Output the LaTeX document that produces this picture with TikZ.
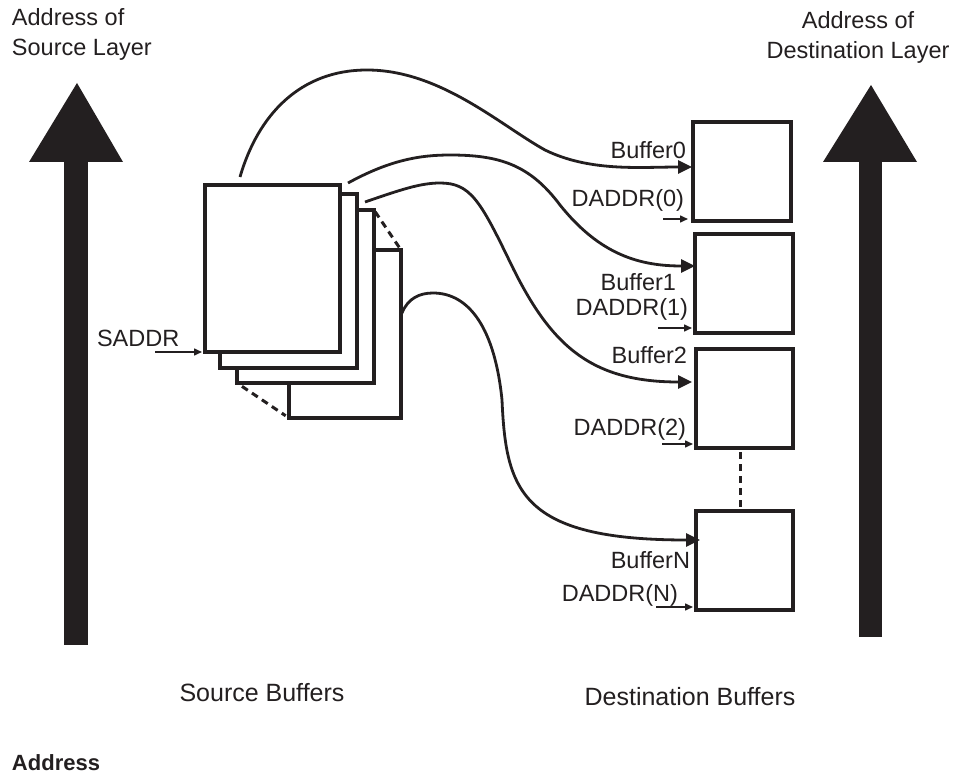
\documentclass[tikz,border=0pt]{standalone}
\usepackage{fontspec}
\setmainfont{Liberation Sans}
\usetikzlibrary{arrows.meta,calc}
\definecolor{ink}{HTML}{231F20}
\tikzset{
  lbl/.style={inner sep=0pt,outer sep=0pt,text=ink,font=\fontsize{23.5}{27}\selectfont},
  biglbl/.style={inner sep=0pt,outer sep=0pt,text=ink,font=\fontsize{25}{29}\selectfont},
  sbuf/.style={draw=ink,line width=3.2pt,fill=white,anchor=north west,inner sep=0pt,outer sep=0pt},
  dbuf/.style={draw=ink,line width=3.2pt,fill=white,anchor=north west,inner sep=0pt,outer sep=0pt},
  curve/.style={draw=ink,line width=2.8pt,-{Triangle[length=14pt,width=13pt]}},
  smallarr/.style={draw=ink,line width=1.5pt,-{Triangle[length=8pt,width=7pt]}},
  dashline/.style={draw=ink,line width=3pt,dash pattern=on 7pt off 5pt},
  bigarrow/.style={fill=ink,draw=none}
}
\begin{document}
\begin{tikzpicture}[x=1pt,y=-1pt]
\useasboundingbox (0,0) rectangle (956,778);

% big arrows
\fill[bigarrow] (64,160) rectangle (88,645);
\fill[bigarrow] (29,162) -- (123,162) -- (77,83) -- cycle;
\fill[bigarrow] (859,160) rectangle (882,637);
\fill[bigarrow] (823,162) -- (917,162) -- (871,85) -- cycle;

% top labels
\node[lbl,anchor=west,align=left] (srclayer) at (12,34) {Address of\\[3pt]Source Layer};
\node[lbl,align=center] (dstlayer) at (858,37) {Address of\\[3pt]Destination Layer};

% source buffers
\node[sbuf,minimum width=112pt,minimum height=168pt] (s4) at (289,250) {};
\node[sbuf,minimum width=137pt,minimum height=173pt] (s3) at (237,210) {};
\node[sbuf,minimum width=137pt,minimum height=174pt] (s2) at (220,194) {};
\node[sbuf,minimum width=135pt,minimum height=167pt] (s1) at (205,185) {};
\draw[dashline,shorten <=6pt,shorten >=4pt] (s3.south west) -- (s4.south west);
\draw[dashline,shorten <=2pt,shorten >=2pt] (s3.north east) -- (s4.north east);

% destination buffers
\node[dbuf,minimum width=98pt,minimum height=99pt] (d0) at (693,122) {};
\node[dbuf,minimum width=98pt,minimum height=99pt] (d1) at (695,234) {};
\node[dbuf,minimum width=97pt,minimum height=99pt] (d2) at (696,349) {};
\node[dbuf,minimum width=97pt,minimum height=99pt] (dN) at (696,511) {};
\draw[dashline,shorten <=4pt,shorten >=4pt] ($(d2.south)+(-4,0)$) -- ($(dN.north)+(-4,0)$);

% labels at destination buffers
\node[lbl,anchor=east] (b0) at (686,150) {Buffer0};
\node[lbl,anchor=east] (a0) at (684,200) {DADDR(0)};
\node[lbl,anchor=east] (b1) at (676,282) {Buffer1};
\node[lbl,anchor=east] (a1) at (688,309) {DADDR(1)};
\node[lbl,anchor=east] (b2) at (687,355) {Buffer2};
\node[lbl,anchor=east] (a2) at (686,429) {DADDR(2)};
\node[lbl,anchor=east] (bN) at (690,560) {BufferN};
\node[lbl,anchor=east] (aN) at (678,595) {DADDR(N)};

\draw[smallarr] ($(d0.south west)+(-30,-2)$) -- ($(d0.south west)+(-5,-2)$);
\draw[smallarr] ($(d1.south west)+(-37,-5)$) -- ($(d1.south west)+(-3,-5)$);
\draw[smallarr] ($(d2.south west)+(-34,-4)$) -- ($(d2.south west)+(-3,-4)$);
\draw[smallarr] ($(dN.south west)+(-40,-3)$) -- ($(dN.south west)+(-3,-3)$);

% SADDR
\node[lbl,anchor=west] (saddr) at (97,338) {SADDR};
\draw[smallarr] ($(s1.south west)+(-50,0)$) -- ($(s1.south west)+(-3,0)$);

% source-side start points of the curves
\coordinate (c1) at (240,177);
\coordinate (c2) at (348,183);
\coordinate (c3) at (365,202);
\coordinate (c4) at (402,313);

% curves
\draw[curve] (c1) .. controls (258,115) and (300,70) .. (367,70)
  .. controls (440,70) and (500,125) .. (545,150)
  .. controls (590,172) and (640,167) .. ($(d0.west)+(-1,-4.5)$);
\draw[curve] (c2) .. controls (390,160) and (420,155) .. (450,155)
  .. controls (500,155) and (530,165) .. (560,205)
  .. controls (600,255) and (640,266) .. ($(d1.west)+(0,-17.5)$);
\draw[curve] (c3) .. controls (400,190) and (420,183) .. (440,183)
  .. controls (470,183) and (480,200) .. (510,262)
  .. controls (550,345) and (590,382) .. ($(d2.west)+(-4,-16.5)$);
\draw[curve] (c4) .. controls (408,298) and (420,293) .. (433,293)
  .. controls (470,293) and (495,330) .. (502,400)
  .. controls (506,490) and (520,540) .. ($(dN.west)+(4,-20.5)$);

% bottom labels
\node[biglbl] (srcbuf) at (262,693) {Source Buffers};
\node[biglbl] (dstbuf) at (690,697) {Destination Buffers};
\node[lbl,anchor=west,font=\fontsize{22}{26}\selectfont\bfseries] (addr) at (12,763) {Address};
\end{tikzpicture}
\end{document}
